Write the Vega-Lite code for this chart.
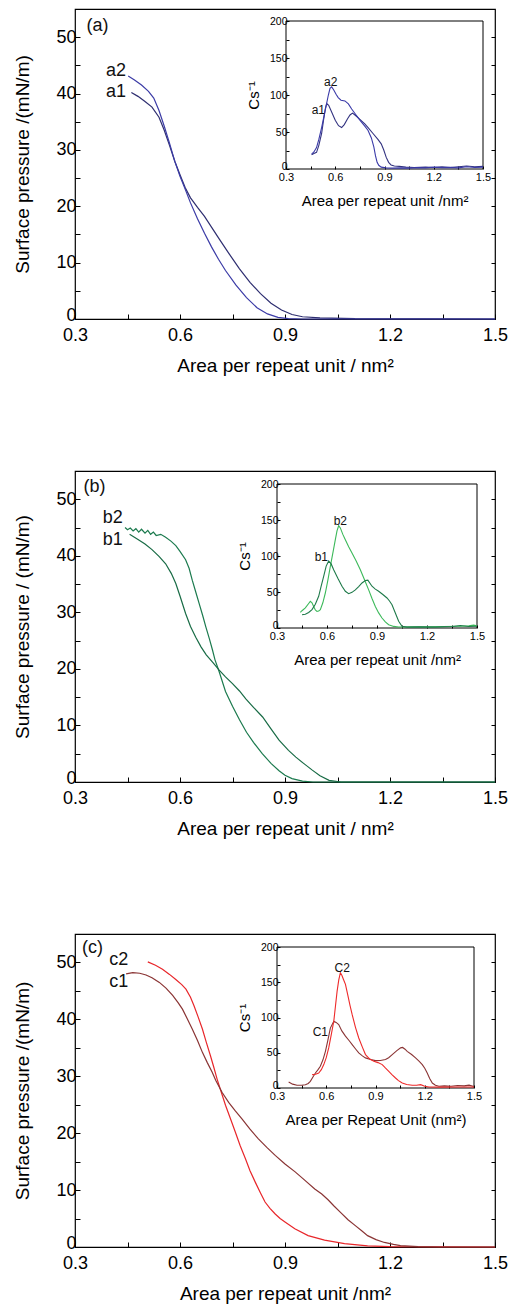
{
  "$schema": "https://vega.github.io/schema/vega-lite/v6.json",
  "padding": {"left": 13, "top": 8, "right": 0, "bottom": 0},
  "background": "white",
  "config": {
    "font": "Liberation Sans",
    "view": {"stroke": "black", "strokeWidth": 1.2},
    "axis": {"grid": false, "domain": false, "tickColor": "black", "tickSize": -5, "tickWidth": 1, "labelColor": "black", "titleColor": "black", "titleFontWeight": "normal", "labelFlush": false, "labelOverlap": false}
  },
  "datasets": {
    "frame": [{"x0": 0.3, "x1": 1.5, "y0": 0, "y1": 200}],
    "mainA": [
      {"s":"a1","x":0.461,"y":40.2},{"s":"a1","x":0.48,"y":39.5},{"s":"a1","x":0.5,"y":38.6},{"s":"a1","x":0.52,"y":37.6},{"s":"a1","x":0.54,"y":35.8},{"s":"a1","x":0.555,"y":33.5},{"s":"a1","x":0.57,"y":30.8},{"s":"a1","x":0.585,"y":28.0},{"s":"a1","x":0.6,"y":25.6},{"s":"a1","x":0.615,"y":23.3},{"s":"a1","x":0.63,"y":21.5},{"s":"a1","x":0.65,"y":19.8},{"s":"a1","x":0.67,"y":18.2},{"s":"a1","x":0.69,"y":16.3},{"s":"a1","x":0.71,"y":14.4},{"s":"a1","x":0.74,"y":11.6},{"s":"a1","x":0.77,"y":8.9},{"s":"a1","x":0.8,"y":6.5},{"s":"a1","x":0.83,"y":4.5},{"s":"a1","x":0.86,"y":2.8},{"s":"a1","x":0.89,"y":1.6},{"s":"a1","x":0.92,"y":0.8},{"s":"a1","x":0.95,"y":0.4},{"s":"a1","x":1.0,"y":0.2},{"s":"a1","x":1.1,"y":0.05},{"s":"a1","x":1.5,"y":0},
      {"s":"a2","x":0.452,"y":43.1},{"s":"a2","x":0.47,"y":42.4},{"s":"a2","x":0.49,"y":41.5},{"s":"a2","x":0.51,"y":40.4},{"s":"a2","x":0.525,"y":39.2},{"s":"a2","x":0.54,"y":37.0},{"s":"a2","x":0.555,"y":34.2},{"s":"a2","x":0.57,"y":31.2},{"s":"a2","x":0.585,"y":28.0},{"s":"a2","x":0.6,"y":25.3},{"s":"a2","x":0.615,"y":23.0},{"s":"a2","x":0.63,"y":20.6},{"s":"a2","x":0.65,"y":17.8},{"s":"a2","x":0.67,"y":15.2},{"s":"a2","x":0.69,"y":12.8},{"s":"a2","x":0.71,"y":10.6},{"s":"a2","x":0.73,"y":8.6},{"s":"a2","x":0.76,"y":6.0},{"s":"a2","x":0.79,"y":3.8},{"s":"a2","x":0.82,"y":2.0},{"s":"a2","x":0.85,"y":0.9},{"s":"a2","x":0.88,"y":0.3},{"s":"a2","x":0.91,"y":0.08},{"s":"a2","x":0.95,"y":0},{"s":"a2","x":1.5,"y":0}
    ],
    "insetA": [
      {"s":"a1i","x":0.456,"y":19.3},{"s":"a1i","x":0.47,"y":21},{"s":"a1i","x":0.486,"y":22.5},{"s":"a1i","x":0.5,"y":32},{"s":"a1i","x":0.517,"y":48},{"s":"a1i","x":0.53,"y":68},{"s":"a1i","x":0.54,"y":82},{"s":"a1i","x":0.548,"y":88.5},{"s":"a1i","x":0.56,"y":86},{"s":"a1i","x":0.58,"y":76},{"s":"a1i","x":0.6,"y":66},{"s":"a1i","x":0.62,"y":58.5},{"s":"a1i","x":0.639,"y":56},{"s":"a1i","x":0.655,"y":60},{"s":"a1i","x":0.675,"y":68},{"s":"a1i","x":0.69,"y":73},{"s":"a1i","x":0.705,"y":75.5},{"s":"a1i","x":0.72,"y":73},{"s":"a1i","x":0.75,"y":67},{"s":"a1i","x":0.78,"y":61},{"s":"a1i","x":0.8,"y":56},{"s":"a1i","x":0.83,"y":48},{"s":"a1i","x":0.86,"y":40},{"s":"a1i","x":0.88,"y":34},{"s":"a1i","x":0.895,"y":26},{"s":"a1i","x":0.91,"y":16},{"s":"a1i","x":0.925,"y":9},{"s":"a1i","x":0.94,"y":5.5},{"s":"a1i","x":0.96,"y":4},{"s":"a1i","x":0.99,"y":3.5},{"s":"a1i","x":1.03,"y":2.5},{"s":"a1i","x":1.08,"y":2},{"s":"a1i","x":1.15,"y":2.5},{"s":"a1i","x":1.2,"y":2},{"s":"a1i","x":1.25,"y":3},{"s":"a1i","x":1.3,"y":2},{"s":"a1i","x":1.35,"y":3},{"s":"a1i","x":1.4,"y":4},{"s":"a1i","x":1.45,"y":3},{"s":"a1i","x":1.5,"y":3.5},
      {"s":"a2i","x":0.456,"y":20.2},{"s":"a2i","x":0.47,"y":23},{"s":"a2i","x":0.486,"y":29},{"s":"a2i","x":0.5,"y":40},{"s":"a2i","x":0.517,"y":56},{"s":"a2i","x":0.532,"y":72},{"s":"a2i","x":0.547,"y":88},{"s":"a2i","x":0.558,"y":100},{"s":"a2i","x":0.568,"y":109},{"s":"a2i","x":0.578,"y":111},{"s":"a2i","x":0.59,"y":107},{"s":"a2i","x":0.605,"y":101},{"s":"a2i","x":0.618,"y":96.5},{"s":"a2i","x":0.635,"y":93},{"s":"a2i","x":0.659,"y":92},{"s":"a2i","x":0.68,"y":88},{"s":"a2i","x":0.7,"y":81},{"s":"a2i","x":0.72,"y":75},{"s":"a2i","x":0.75,"y":66},{"s":"a2i","x":0.78,"y":58},{"s":"a2i","x":0.8,"y":52},{"s":"a2i","x":0.82,"y":42},{"s":"a2i","x":0.835,"y":30},{"s":"a2i","x":0.845,"y":18},{"s":"a2i","x":0.855,"y":9},{"s":"a2i","x":0.865,"y":5},{"s":"a2i","x":0.88,"y":2.5},{"s":"a2i","x":0.91,"y":1.5},{"s":"a2i","x":0.95,"y":1.2},{"s":"a2i","x":1.0,"y":1.5},{"s":"a2i","x":1.05,"y":1.2},{"s":"a2i","x":1.1,"y":1.8},{"s":"a2i","x":1.15,"y":1.5},{"s":"a2i","x":1.2,"y":2.5},{"s":"a2i","x":1.25,"y":1.8},{"s":"a2i","x":1.3,"y":2.2},{"s":"a2i","x":1.35,"y":1.5},{"s":"a2i","x":1.4,"y":3},{"s":"a2i","x":1.45,"y":2},{"s":"a2i","x":1.5,"y":2.5}
    ],
    "mainB": [
      {"s":"b2","x":0.443,"y":45.0},{"s":"b2","x":0.45,"y":44.6},{"s":"b2","x":0.458,"y":44.9},{"s":"b2","x":0.466,"y":44.4},{"s":"b2","x":0.474,"y":44.8},{"s":"b2","x":0.482,"y":44.2},{"s":"b2","x":0.49,"y":44.7},{"s":"b2","x":0.5,"y":44.0},{"s":"b2","x":0.508,"y":44.5},{"s":"b2","x":0.516,"y":43.8},{"s":"b2","x":0.524,"y":44.2},{"s":"b2","x":0.532,"y":43.6},{"s":"b2","x":0.545,"y":43.8},{"s":"b2","x":0.559,"y":43.3},{"s":"b2","x":0.574,"y":42.6},{"s":"b2","x":0.588,"y":41.8},{"s":"b2","x":0.6,"y":40.8},{"s":"b2","x":0.616,"y":39.3},{"s":"b2","x":0.626,"y":37.8},{"s":"b2","x":0.635,"y":35.7},{"s":"b2","x":0.645,"y":33.6},{"s":"b2","x":0.655,"y":31.5},{"s":"b2","x":0.665,"y":29.4},{"s":"b2","x":0.674,"y":27.4},{"s":"b2","x":0.684,"y":25.3},{"s":"b2","x":0.693,"y":23.3},{"s":"b2","x":0.7,"y":21.6},{"s":"b2","x":0.712,"y":19.5},{"s":"b2","x":0.73,"y":16.0},{"s":"b2","x":0.75,"y":13.4},{"s":"b2","x":0.77,"y":11.0},{"s":"b2","x":0.79,"y":8.8},{"s":"b2","x":0.81,"y":7.0},{"s":"b2","x":0.835,"y":5.0},{"s":"b2","x":0.86,"y":3.3},{"s":"b2","x":0.883,"y":2.0},{"s":"b2","x":0.9,"y":1.2},{"s":"b2","x":0.92,"y":0.6},{"s":"b2","x":0.95,"y":0.15},{"s":"b2","x":0.98,"y":0},{"s":"b2","x":1.5,"y":0},
      {"s":"b1","x":0.456,"y":43.8},{"s":"b1","x":0.48,"y":42.9},{"s":"b1","x":0.5,"y":42.1},{"s":"b1","x":0.52,"y":41.1},{"s":"b1","x":0.54,"y":39.9},{"s":"b1","x":0.559,"y":38.6},{"s":"b1","x":0.575,"y":36.9},{"s":"b1","x":0.588,"y":35.1},{"s":"b1","x":0.6,"y":32.9},{"s":"b1","x":0.616,"y":29.8},{"s":"b1","x":0.63,"y":27.5},{"s":"b1","x":0.645,"y":25.6},{"s":"b1","x":0.66,"y":23.9},{"s":"b1","x":0.675,"y":22.5},{"s":"b1","x":0.693,"y":21.2},{"s":"b1","x":0.712,"y":19.8},{"s":"b1","x":0.73,"y":18.6},{"s":"b1","x":0.75,"y":17.4},{"s":"b1","x":0.77,"y":16.1},{"s":"b1","x":0.788,"y":14.7},{"s":"b1","x":0.81,"y":13.2},{"s":"b1","x":0.836,"y":11.5},{"s":"b1","x":0.86,"y":9.4},{"s":"b1","x":0.883,"y":7.4},{"s":"b1","x":0.91,"y":5.6},{"s":"b1","x":0.931,"y":4.4},{"s":"b1","x":0.955,"y":3.2},{"s":"b1","x":0.978,"y":2.1},{"s":"b1","x":1.0,"y":1.1},{"s":"b1","x":1.026,"y":0.3},{"s":"b1","x":1.06,"y":0},{"s":"b1","x":1.5,"y":0}
    ],
    "insetB": [
      {"s":"b2i","x":0.44,"y":21.8},{"s":"b2i","x":0.45,"y":24},{"s":"b2i","x":0.47,"y":28},{"s":"b2i","x":0.49,"y":34},{"s":"b2i","x":0.5,"y":37},{"s":"b2i","x":0.51,"y":35},{"s":"b2i","x":0.52,"y":30},{"s":"b2i","x":0.53,"y":25},{"s":"b2i","x":0.54,"y":23},{"s":"b2i","x":0.55,"y":23.5},{"s":"b2i","x":0.56,"y":25.5},{"s":"b2i","x":0.575,"y":35},{"s":"b2i","x":0.59,"y":48.6},{"s":"b2i","x":0.605,"y":66},{"s":"b2i","x":0.62,"y":85.6},{"s":"b2i","x":0.635,"y":104},{"s":"b2i","x":0.65,"y":122.7},{"s":"b2i","x":0.66,"y":135},{"s":"b2i","x":0.67,"y":142},{"s":"b2i","x":0.68,"y":139},{"s":"b2i","x":0.695,"y":130},{"s":"b2i","x":0.71,"y":122.7},{"s":"b2i","x":0.73,"y":113},{"s":"b2i","x":0.75,"y":104},{"s":"b2i","x":0.775,"y":93},{"s":"b2i","x":0.8,"y":81},{"s":"b2i","x":0.825,"y":67},{"s":"b2i","x":0.85,"y":53},{"s":"b2i","x":0.87,"y":41},{"s":"b2i","x":0.89,"y":30},{"s":"b2i","x":0.91,"y":21},{"s":"b2i","x":0.93,"y":13.9},{"s":"b2i","x":0.95,"y":8.5},{"s":"b2i","x":0.97,"y":4.6},{"s":"b2i","x":1.0,"y":2.2},{"s":"b2i","x":1.03,"y":1.4},{"s":"b2i","x":1.1,"y":1.5},{"s":"b2i","x":1.2,"y":1.5},{"s":"b2i","x":1.3,"y":2},{"s":"b2i","x":1.4,"y":2.5},{"s":"b2i","x":1.45,"y":3},{"s":"b2i","x":1.48,"y":4},{"s":"b2i","x":1.5,"y":3},
      {"s":"b1i","x":0.45,"y":18.5},{"s":"b1i","x":0.47,"y":19},{"s":"b1i","x":0.49,"y":21.5},{"s":"b1i","x":0.51,"y":25.5},{"s":"b1i","x":0.53,"y":33},{"s":"b1i","x":0.55,"y":44},{"s":"b1i","x":0.565,"y":58},{"s":"b1i","x":0.58,"y":71.8},{"s":"b1i","x":0.595,"y":86},{"s":"b1i","x":0.61,"y":93},{"s":"b1i","x":0.625,"y":89},{"s":"b1i","x":0.64,"y":81},{"s":"b1i","x":0.665,"y":69},{"s":"b1i","x":0.69,"y":58},{"s":"b1i","x":0.71,"y":51},{"s":"b1i","x":0.73,"y":47.7},{"s":"b1i","x":0.75,"y":49.5},{"s":"b1i","x":0.77,"y":53},{"s":"b1i","x":0.79,"y":57.5},{"s":"b1i","x":0.81,"y":62.5},{"s":"b1i","x":0.83,"y":66},{"s":"b1i","x":0.845,"y":66.5},{"s":"b1i","x":0.87,"y":58},{"s":"b1i","x":0.89,"y":54},{"s":"b1i","x":0.91,"y":51},{"s":"b1i","x":0.935,"y":46.5},{"s":"b1i","x":0.96,"y":41.7},{"s":"b1i","x":0.975,"y":37.5},{"s":"b1i","x":0.99,"y":32.4},{"s":"b1i","x":1.01,"y":20.8},{"s":"b1i","x":1.03,"y":9.3},{"s":"b1i","x":1.05,"y":2.3},{"s":"b1i","x":1.08,"y":1.2},{"s":"b1i","x":1.15,"y":1.5},{"s":"b1i","x":1.25,"y":1.2},{"s":"b1i","x":1.35,"y":2},{"s":"b1i","x":1.4,"y":3.5},{"s":"b1i","x":1.45,"y":2},{"s":"b1i","x":1.5,"y":2.5}
    ],
    "mainC": [
      {"s":"c2","x":0.508,"y":50.1},{"s":"c2","x":0.53,"y":49.5},{"s":"c2","x":0.55,"y":48.8},{"s":"c2","x":0.57,"y":47.9},{"s":"c2","x":0.588,"y":47.0},{"s":"c2","x":0.605,"y":46.1},{"s":"c2","x":0.617,"y":45.3},{"s":"c2","x":0.63,"y":43.9},{"s":"c2","x":0.64,"y":42.4},{"s":"c2","x":0.652,"y":40.4},{"s":"c2","x":0.664,"y":38.3},{"s":"c2","x":0.675,"y":36.0},{"s":"c2","x":0.687,"y":33.6},{"s":"c2","x":0.697,"y":31.5},{"s":"c2","x":0.706,"y":29.5},{"s":"c2","x":0.718,"y":27.2},{"s":"c2","x":0.73,"y":24.9},{"s":"c2","x":0.745,"y":22.4},{"s":"c2","x":0.758,"y":20.2},{"s":"c2","x":0.772,"y":17.8},{"s":"c2","x":0.787,"y":15.5},{"s":"c2","x":0.8,"y":13.4},{"s":"c2","x":0.815,"y":11.4},{"s":"c2","x":0.83,"y":9.5},{"s":"c2","x":0.843,"y":7.9},{"s":"c2","x":0.857,"y":6.8},{"s":"c2","x":0.872,"y":5.8},{"s":"c2","x":0.886,"y":5.0},{"s":"c2","x":0.9,"y":4.4},{"s":"c2","x":0.928,"y":3.2},{"s":"c2","x":0.966,"y":2.0},{"s":"c2","x":1.013,"y":1.2},{"s":"c2","x":1.07,"y":0.6},{"s":"c2","x":1.136,"y":0.2},{"s":"c2","x":1.2,"y":0.05},{"s":"c2","x":1.5,"y":0},
      {"s":"c1","x":0.446,"y":48.0},{"s":"c1","x":0.465,"y":48.2},{"s":"c1","x":0.485,"y":48.1},{"s":"c1","x":0.503,"y":47.8},{"s":"c1","x":0.52,"y":47.3},{"s":"c1","x":0.541,"y":46.5},{"s":"c1","x":0.56,"y":45.5},{"s":"c1","x":0.579,"y":44.2},{"s":"c1","x":0.595,"y":42.9},{"s":"c1","x":0.607,"y":41.8},{"s":"c1","x":0.62,"y":40.2},{"s":"c1","x":0.635,"y":38.3},{"s":"c1","x":0.65,"y":36.3},{"s":"c1","x":0.664,"y":34.2},{"s":"c1","x":0.678,"y":32.4},{"s":"c1","x":0.692,"y":30.7},{"s":"c1","x":0.702,"y":29.3},{"s":"c1","x":0.72,"y":27.2},{"s":"c1","x":0.739,"y":25.4},{"s":"c1","x":0.758,"y":23.9},{"s":"c1","x":0.777,"y":22.5},{"s":"c1","x":0.8,"y":20.7},{"s":"c1","x":0.824,"y":19.0},{"s":"c1","x":0.848,"y":17.5},{"s":"c1","x":0.872,"y":16.1},{"s":"c1","x":0.9,"y":14.6},{"s":"c1","x":0.929,"y":13.2},{"s":"c1","x":0.957,"y":11.7},{"s":"c1","x":0.985,"y":10.2},{"s":"c1","x":1.005,"y":9.3},{"s":"c1","x":1.023,"y":8.3},{"s":"c1","x":1.04,"y":7.2},{"s":"c1","x":1.06,"y":6.0},{"s":"c1","x":1.08,"y":4.8},{"s":"c1","x":1.1,"y":3.8},{"s":"c1","x":1.12,"y":2.8},{"s":"c1","x":1.136,"y":2.0},{"s":"c1","x":1.16,"y":1.3},{"s":"c1","x":1.184,"y":0.8},{"s":"c1","x":1.21,"y":0.45},{"s":"c1","x":1.23,"y":0.25},{"s":"c1","x":1.28,"y":0.05},{"s":"c1","x":1.35,"y":0},{"s":"c1","x":1.5,"y":0}
    ],
    "insetC": [
      {"s":"c1i","x":0.371,"y":8.5},{"s":"c1i","x":0.395,"y":5.5},{"s":"c1i","x":0.422,"y":3.8},{"s":"c1i","x":0.45,"y":4},{"s":"c1i","x":0.473,"y":4.7},{"s":"c1i","x":0.49,"y":6.5},{"s":"c1i","x":0.503,"y":9.5},{"s":"c1i","x":0.52,"y":16},{"s":"c1i","x":0.534,"y":21.3},{"s":"c1i","x":0.55,"y":26},{"s":"c1i","x":0.564,"y":30.8},{"s":"c1i","x":0.58,"y":40},{"s":"c1i","x":0.595,"y":52},{"s":"c1i","x":0.61,"y":68},{"s":"c1i","x":0.625,"y":85},{"s":"c1i","x":0.646,"y":94.8},{"s":"c1i","x":0.66,"y":93},{"s":"c1i","x":0.676,"y":90},{"s":"c1i","x":0.695,"y":81},{"s":"c1i","x":0.717,"y":73.5},{"s":"c1i","x":0.74,"y":67},{"s":"c1i","x":0.758,"y":61.6},{"s":"c1i","x":0.78,"y":55},{"s":"c1i","x":0.798,"y":49.8},{"s":"c1i","x":0.82,"y":45.5},{"s":"c1i","x":0.839,"y":42.7},{"s":"c1i","x":0.87,"y":40.5},{"s":"c1i","x":0.9,"y":38.9},{"s":"c1i","x":0.93,"y":39},{"s":"c1i","x":0.961,"y":40.3},{"s":"c1i","x":0.98,"y":43},{"s":"c1i","x":1.002,"y":47.4},{"s":"c1i","x":1.03,"y":53},{"s":"c1i","x":1.053,"y":56.9},{"s":"c1i","x":1.065,"y":57.5},{"s":"c1i","x":1.08,"y":55},{"s":"c1i","x":1.093,"y":52},{"s":"c1i","x":1.12,"y":47.5},{"s":"c1i","x":1.144,"y":42.7},{"s":"c1i","x":1.165,"y":38},{"s":"c1i","x":1.185,"y":33.2},{"s":"c1i","x":1.2,"y":28},{"s":"c1i","x":1.215,"y":21.3},{"s":"c1i","x":1.23,"y":13.5},{"s":"c1i","x":1.246,"y":7.1},{"s":"c1i","x":1.265,"y":4},{"s":"c1i","x":1.286,"y":2.4},{"s":"c1i","x":1.32,"y":3},{"s":"c1i","x":1.36,"y":2.5},{"s":"c1i","x":1.4,"y":3.5},{"s":"c1i","x":1.44,"y":3},{"s":"c1i","x":1.47,"y":4},{"s":"c1i","x":1.5,"y":2},
      {"s":"c2i","x":0.514,"y":19},{"s":"c2i","x":0.535,"y":19.5},{"s":"c2i","x":0.554,"y":21.3},{"s":"c2i","x":0.57,"y":26},{"s":"c2i","x":0.585,"y":33.2},{"s":"c2i","x":0.6,"y":43},{"s":"c2i","x":0.615,"y":56.9},{"s":"c2i","x":0.63,"y":75},{"s":"c2i","x":0.646,"y":94.8},{"s":"c2i","x":0.656,"y":116},{"s":"c2i","x":0.666,"y":137},{"s":"c2i","x":0.676,"y":153},{"s":"c2i","x":0.686,"y":163.5},{"s":"c2i","x":0.695,"y":160},{"s":"c2i","x":0.705,"y":154},{"s":"c2i","x":0.717,"y":147},{"s":"c2i","x":0.73,"y":133},{"s":"c2i","x":0.745,"y":117},{"s":"c2i","x":0.758,"y":104},{"s":"c2i","x":0.778,"y":86},{"s":"c2i","x":0.798,"y":71},{"s":"c2i","x":0.82,"y":58},{"s":"c2i","x":0.839,"y":47.4},{"s":"c2i","x":0.865,"y":41},{"s":"c2i","x":0.89,"y":37.9},{"s":"c2i","x":0.915,"y":36},{"s":"c2i","x":0.941,"y":33.2},{"s":"c2i","x":0.96,"y":28.5},{"s":"c2i","x":0.981,"y":23.7},{"s":"c2i","x":1.0,"y":19},{"s":"c2i","x":1.022,"y":14.2},{"s":"c2i","x":1.04,"y":10.5},{"s":"c2i","x":1.063,"y":7.1},{"s":"c2i","x":1.09,"y":5},{"s":"c2i","x":1.124,"y":3.8},{"s":"c2i","x":1.15,"y":3.8},{"s":"c2i","x":1.175,"y":4.7},{"s":"c2i","x":1.2,"y":2.5},{"s":"c2i","x":1.226,"y":1.4},{"s":"c2i","x":1.3,"y":1.2},{"s":"c2i","x":1.4,"y":1.5},{"s":"c2i","x":1.5,"y":1.5}
    ],
    "labA": [{"t":"a2","x":0.417,"y":44.0},{"t":"a1","x":0.417,"y":40.2},{"t":"(a)","x":0.364,"y":51.9}],
    "labB": [{"t":"b2","x":0.408,"y":46.6},{"t":"b1","x":0.408,"y":42.8},{"t":"(b)","x":0.356,"y":52.2}],
    "labC": [{"t":"c2","x":0.425,"y":50.5},{"t":"c1","x":0.425,"y":46.5},{"t":"(c)","x":0.35,"y":52.5}],
    "ilabA": [{"t":"a2","x":0.572,"y":118},{"t":"a1","x":0.497,"y":80}],
    "ilabB": [{"t":"b2","x":0.68,"y":148},{"t":"b1","x":0.566,"y":99}],
    "ilabC": [{"t":"C2","x":0.697,"y":170},{"t":"C1","x":0.564,"y":80}]
  },
  "spacing": 94,
  "vconcat": [
    {
      "width": 420, "height": 310,
      "layer": [
        {"data": {"name": "mainA"}, "mark": {"type": "line", "strokeWidth": 1.2},
         "encoding": {
           "x": {"field": "x", "type": "quantitative", "scale": {"domain": [0.3, 1.5], "nice": false, "zero": false},
                 "axis": {"orient": "bottom", "values": [0.3,0.45,0.6,0.75,0.9,1.05,1.2,1.35,1.5], "labelExpr": "round(datum.value*100) % 30 == 0 ? format(datum.value, '.1f') : ''", "labelFontSize": 18, "labelPadding": 12, "title": "Area per repeat unit / nm²", "titleFontSize": 19, "titlePadding": 12}},
           "y": {"field": "y", "type": "quantitative", "scale": {"domain": [0, 55], "nice": false},
                 "axis": {"orient": "left", "values": [0,5,10,15,20,25,30,35,40,45,50], "labelExpr": "datum.value % 10 == 0 ? datum.label : ''", "labelOffset": {"condition": {"test": "datum.value == 0", "value": -4}, "value": 0}, "labelFontSize": 18, "labelPadding": 4, "title": "Surface pressure /(mN/m)", "titleFontSize": 19, "titlePadding": 23}},
           "color": {"field": "s", "type": "nominal", "legend": null, "scale": {"domain": ["a1","a2","b1","b2","c1","c2","a1i","a2i","b1i","b2i","c1i","c2i"], "range": ["#2e2e70","#3b3ba6","#186b45","#1b7a4e","#8a3434","#e8262a","#333380","#3a3aa8","#1f7a4a","#3cb95a","#8a3434","#ee2a2a"]}}
         }},
        {"data": {"name": "mainA"}, "mark": {"type": "line", "opacity": 0},
         "encoding": {
           "x": {"field": "x", "type": "quantitative", "scale": {"domain": [0.3, 1.5], "nice": false, "zero": false}, "axis": null},
           "y": {"field": "y", "type": "quantitative", "scale": {"domain": [0, 55], "nice": false},
                 "axis": {"orient": "right", "values": [0,5,10,15,20,25,30,35,40,45,50], "labels": false, "tickSize": -4, "title": null}}
         }},
        {"data": {"name": "labA"}, "mark": {"type": "text", "fontSize": 18, "color": "#111111", "align": "center", "baseline": "middle"},
         "encoding": {
           "x": {"field": "x", "type": "quantitative", "scale": {"domain": [0.3, 1.5], "nice": false, "zero": false}, "axis": null},
           "y": {"field": "y", "type": "quantitative", "scale": {"domain": [0, 55], "nice": false}, "axis": null},
           "text": {"field": "t"}
         }},
        {"data": {"name": "frame"}, "mark": {"type": "rect", "fill": null, "fillOpacity": 0, "stroke": "black", "strokeWidth": 1},
         "encoding": {
           "x": {"field": "x0", "type": "quantitative", "scale": {"domain": [0.3, 1.5], "range": [211, 408], "nice": false, "zero": false},
                 "axis": {"orient": "bottom", "values": [0.3,0.45,0.6,0.75,0.9,1.05,1.2,1.35,1.5], "labelExpr": "round(datum.value*100) % 30 == 0 ? format(datum.value, '.1f') : ''", "offset": -150, "tickSize": -3, "labelFontSize": 11, "labelPadding": 5.5, "title": "Area per repeat unit /nm²", "titleFontSize": 15, "titlePadding": 10.5}},
           "x2": {"field": "x1"},
           "y": {"field": "y0", "type": "quantitative", "scale": {"domain": [0, 200], "range": [160, 12], "nice": false},
                 "axis": {"orient": "left", "values": [0,25,50,75,100,125,150,175,200], "labelExpr": "datum.value % 50 == 0 ? datum.label : ''", "labelBaseline": {"condition": {"test": "datum.value == 0", "value": "alphabetic"}, "value": "middle"}, "offset": -211, "tickSize": -3, "labelFontSize": 10.5, "labelPadding": 2, "title": "Cs⁻¹", "titleFontSize": 15, "titlePadding": 8}},
           "y2": {"field": "y1"}
         }},
        {"data": {"name": "insetA"}, "mark": {"type": "line", "strokeWidth": 1.1},
         "encoding": {
           "x": {"field": "x", "type": "quantitative", "scale": {"domain": [0.3, 1.5], "range": [211, 408], "nice": false, "zero": false}, "axis": null},
           "y": {"field": "y", "type": "quantitative", "scale": {"domain": [0, 200], "range": [160, 12], "nice": false}, "axis": null},
           "color": {"field": "s", "type": "nominal", "legend": null, "scale": {"domain": ["a1","a2","b1","b2","c1","c2","a1i","a2i","b1i","b2i","c1i","c2i"], "range": ["#2e2e70","#3b3ba6","#186b45","#1b7a4e","#8a3434","#e8262a","#333380","#3a3aa8","#1f7a4a","#3cb95a","#8a3434","#ee2a2a"]}}
         }},
        {"data": {"name": "ilabA"}, "mark": {"type": "text", "fontSize": 12, "color": "#111111", "align": "center", "baseline": "middle"},
         "encoding": {
           "x": {"field": "x", "type": "quantitative", "scale": {"domain": [0.3, 1.5], "range": [211, 408], "nice": false, "zero": false}, "axis": null},
           "y": {"field": "y", "type": "quantitative", "scale": {"domain": [0, 200], "range": [160, 12], "nice": false}, "axis": null},
           "text": {"field": "t"}
         }}
      ],
      "resolve": {"scale": {"x": "independent", "y": "independent"}, "axis": {"x": "independent", "y": "independent"}}
    },
    {
      "width": 420, "height": 311,
      "layer": [
        {"data": {"name": "mainB"}, "mark": {"type": "line", "strokeWidth": 1.2},
         "encoding": {
           "x": {"field": "x", "type": "quantitative", "scale": {"domain": [0.3, 1.5], "nice": false, "zero": false},
                 "axis": {"orient": "bottom", "values": [0.3,0.45,0.6,0.75,0.9,1.05,1.2,1.35,1.5], "labelExpr": "round(datum.value*100) % 30 == 0 ? format(datum.value, '.1f') : ''", "labelFontSize": 18, "labelPadding": 12, "title": "Area per repeat unit / nm²", "titleFontSize": 19, "titlePadding": 12}},
           "y": {"field": "y", "type": "quantitative", "scale": {"domain": [0, 55], "nice": false},
                 "axis": {"orient": "left", "values": [0,5,10,15,20,25,30,35,40,45,50], "labelExpr": "datum.value % 10 == 0 ? datum.label : ''", "labelOffset": {"condition": {"test": "datum.value == 0", "value": -4}, "value": 0}, "labelFontSize": 18, "labelPadding": 4, "title": "Surface pressure / (mN/m)", "titleFontSize": 19, "titlePadding": 23}},
           "color": {"field": "s", "type": "nominal", "legend": null, "scale": {"domain": ["a1","a2","b1","b2","c1","c2","a1i","a2i","b1i","b2i","c1i","c2i"], "range": ["#2e2e70","#3b3ba6","#186b45","#1b7a4e","#8a3434","#e8262a","#333380","#3a3aa8","#1f7a4a","#3cb95a","#8a3434","#ee2a2a"]}}
         }},
        {"data": {"name": "mainB"}, "mark": {"type": "line", "opacity": 0},
         "encoding": {
           "x": {"field": "x", "type": "quantitative", "scale": {"domain": [0.3, 1.5], "nice": false, "zero": false}, "axis": null},
           "y": {"field": "y", "type": "quantitative", "scale": {"domain": [0, 55], "nice": false},
                 "axis": {"orient": "right", "values": [0,5,10,15,20,25,30,35,40,45,50], "labels": false, "tickSize": -4, "title": null}}
         }},
        {"data": {"name": "labB"}, "mark": {"type": "text", "fontSize": 18, "color": "#111111", "align": "center", "baseline": "middle"},
         "encoding": {
           "x": {"field": "x", "type": "quantitative", "scale": {"domain": [0.3, 1.5], "nice": false, "zero": false}, "axis": null},
           "y": {"field": "y", "type": "quantitative", "scale": {"domain": [0, 55], "nice": false}, "axis": null},
           "text": {"field": "t"}
         }},
        {"data": {"name": "frame"}, "mark": {"type": "rect", "fill": null, "fillOpacity": 0, "stroke": "black", "strokeWidth": 1},
         "encoding": {
           "x": {"field": "x0", "type": "quantitative", "scale": {"domain": [0.3, 1.5], "range": [202, 402], "nice": false, "zero": false},
                 "axis": {"orient": "bottom", "values": [0.3,0.45,0.6,0.75,0.9,1.05,1.2,1.35,1.5], "labelExpr": "round(datum.value*100) % 30 == 0 ? format(datum.value, '.1f') : ''", "offset": -154, "tickSize": -3, "labelFontSize": 11, "labelPadding": 5.5, "title": "Area per repeat unit /nm²", "titleFontSize": 15, "titlePadding": 10.5}},
           "x2": {"field": "x1"},
           "y": {"field": "y0", "type": "quantitative", "scale": {"domain": [0, 200], "range": [157, 13], "nice": false},
                 "axis": {"orient": "left", "values": [0,25,50,75,100,125,150,175,200], "labelExpr": "datum.value % 50 == 0 ? datum.label : ''", "labelBaseline": {"condition": {"test": "datum.value == 0", "value": "alphabetic"}, "value": "middle"}, "offset": -202, "tickSize": -3, "labelFontSize": 10.5, "labelPadding": 2, "title": "Cs⁻¹", "titleFontSize": 15, "titlePadding": 8}},
           "y2": {"field": "y1"}
         }},
        {"data": {"name": "insetB"}, "mark": {"type": "line", "strokeWidth": 1.1},
         "encoding": {
           "x": {"field": "x", "type": "quantitative", "scale": {"domain": [0.3, 1.5], "range": [202, 402], "nice": false, "zero": false}, "axis": null},
           "y": {"field": "y", "type": "quantitative", "scale": {"domain": [0, 200], "range": [157, 13], "nice": false}, "axis": null},
           "color": {"field": "s", "type": "nominal", "legend": null, "scale": {"domain": ["a1","a2","b1","b2","c1","c2","a1i","a2i","b1i","b2i","c1i","c2i"], "range": ["#2e2e70","#3b3ba6","#186b45","#1b7a4e","#8a3434","#e8262a","#333380","#3a3aa8","#1f7a4a","#3cb95a","#8a3434","#ee2a2a"]}}
         }},
        {"data": {"name": "ilabB"}, "mark": {"type": "text", "fontSize": 12, "color": "#111111", "align": "center", "baseline": "middle"},
         "encoding": {
           "x": {"field": "x", "type": "quantitative", "scale": {"domain": [0.3, 1.5], "range": [202, 402], "nice": false, "zero": false}, "axis": null},
           "y": {"field": "y", "type": "quantitative", "scale": {"domain": [0, 200], "range": [157, 13], "nice": false}, "axis": null},
           "text": {"field": "t"}
         }}
      ],
      "resolve": {"scale": {"x": "independent", "y": "independent"}, "axis": {"x": "independent", "y": "independent"}}
    },
    {
      "width": 420, "height": 313,
      "layer": [
        {"data": {"name": "mainC"}, "mark": {"type": "line", "strokeWidth": 1.2},
         "encoding": {
           "x": {"field": "x", "type": "quantitative", "scale": {"domain": [0.3, 1.5], "nice": false, "zero": false},
                 "axis": {"orient": "bottom", "values": [0.3,0.45,0.6,0.75,0.9,1.05,1.2,1.35,1.5], "labelExpr": "round(datum.value*100) % 30 == 0 ? format(datum.value, '.1f') : ''", "labelFontSize": 18, "labelPadding": 12, "title": "Area per repeat unit /nm²", "titleFontSize": 19, "titlePadding": 12}},
           "y": {"field": "y", "type": "quantitative", "scale": {"domain": [0, 55], "nice": false},
                 "axis": {"orient": "left", "values": [0,5,10,15,20,25,30,35,40,45,50], "labelExpr": "datum.value % 10 == 0 ? datum.label : ''", "labelOffset": {"condition": {"test": "datum.value == 0", "value": -4}, "value": 0}, "labelFontSize": 18, "labelPadding": 4, "title": "Surface pressure /(mN/m)", "titleFontSize": 19, "titlePadding": 23}},
           "color": {"field": "s", "type": "nominal", "legend": null, "scale": {"domain": ["a1","a2","b1","b2","c1","c2","a1i","a2i","b1i","b2i","c1i","c2i"], "range": ["#2e2e70","#3b3ba6","#186b45","#1b7a4e","#8a3434","#e8262a","#333380","#3a3aa8","#1f7a4a","#3cb95a","#8a3434","#ee2a2a"]}}
         }},
        {"data": {"name": "mainC"}, "mark": {"type": "line", "opacity": 0},
         "encoding": {
           "x": {"field": "x", "type": "quantitative", "scale": {"domain": [0.3, 1.5], "nice": false, "zero": false}, "axis": null},
           "y": {"field": "y", "type": "quantitative", "scale": {"domain": [0, 55], "nice": false},
                 "axis": {"orient": "right", "values": [0,5,10,15,20,25,30,35,40,45,50], "labels": false, "tickSize": -4, "title": null}}
         }},
        {"data": {"name": "labC"}, "mark": {"type": "text", "fontSize": 18, "color": "#111111", "align": "center", "baseline": "middle"},
         "encoding": {
           "x": {"field": "x", "type": "quantitative", "scale": {"domain": [0.3, 1.5], "nice": false, "zero": false}, "axis": null},
           "y": {"field": "y", "type": "quantitative", "scale": {"domain": [0, 55], "nice": false}, "axis": null},
           "text": {"field": "t"}
         }},
        {"data": {"name": "frame"}, "mark": {"type": "rect", "fill": null, "fillOpacity": 0, "stroke": "black", "strokeWidth": 1},
         "encoding": {
           "x": {"field": "x0", "type": "quantitative", "scale": {"domain": [0.3, 1.5], "range": [202, 399], "nice": false, "zero": false},
                 "axis": {"orient": "bottom", "values": [0.3,0.45,0.6,0.75,0.9,1.05,1.2,1.35,1.5], "labelExpr": "round(datum.value*100) % 30 == 0 ? format(datum.value, '.1f') : ''", "offset": -159, "tickSize": -3, "labelFontSize": 11, "labelPadding": 5.5, "title": "Area per Repeat Unit (nm²)", "titleFontSize": 15, "titlePadding": 10.5}},
           "x2": {"field": "x1"},
           "y": {"field": "y0", "type": "quantitative", "scale": {"domain": [0, 200], "range": [154, 13], "nice": false},
                 "axis": {"orient": "left", "values": [0,25,50,75,100,125,150,175,200], "labelExpr": "datum.value % 50 == 0 ? datum.label : ''", "labelBaseline": {"condition": {"test": "datum.value == 0", "value": "alphabetic"}, "value": "middle"}, "offset": -202, "tickSize": -3, "labelFontSize": 10.5, "labelPadding": 2, "title": "Cs⁻¹", "titleFontSize": 15, "titlePadding": 8}},
           "y2": {"field": "y1"}
         }},
        {"data": {"name": "insetC"}, "mark": {"type": "line", "strokeWidth": 1.1},
         "encoding": {
           "x": {"field": "x", "type": "quantitative", "scale": {"domain": [0.3, 1.5], "range": [202, 399], "nice": false, "zero": false}, "axis": null},
           "y": {"field": "y", "type": "quantitative", "scale": {"domain": [0, 200], "range": [154, 13], "nice": false}, "axis": null},
           "color": {"field": "s", "type": "nominal", "legend": null, "scale": {"domain": ["a1","a2","b1","b2","c1","c2","a1i","a2i","b1i","b2i","c1i","c2i"], "range": ["#2e2e70","#3b3ba6","#186b45","#1b7a4e","#8a3434","#e8262a","#333380","#3a3aa8","#1f7a4a","#3cb95a","#8a3434","#ee2a2a"]}}
         }},
        {"data": {"name": "ilabC"}, "mark": {"type": "text", "fontSize": 12, "color": "#111111", "align": "center", "baseline": "middle"},
         "encoding": {
           "x": {"field": "x", "type": "quantitative", "scale": {"domain": [0.3, 1.5], "range": [202, 399], "nice": false, "zero": false}, "axis": null},
           "y": {"field": "y", "type": "quantitative", "scale": {"domain": [0, 200], "range": [154, 13], "nice": false}, "axis": null},
           "text": {"field": "t"}
         }}
      ],
      "resolve": {"scale": {"x": "independent", "y": "independent"}, "axis": {"x": "independent", "y": "independent"}}
    }
  ]
}
